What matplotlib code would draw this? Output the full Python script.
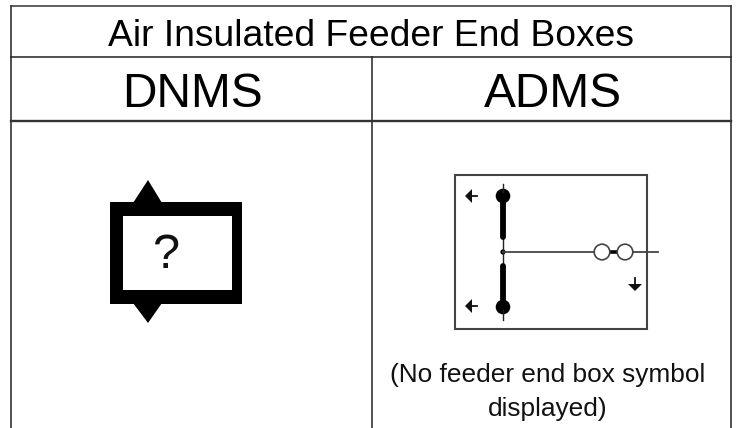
import matplotlib
matplotlib.use("Agg")
import matplotlib.pyplot as plt
from matplotlib.patches import Circle, Polygon, Rectangle

W, H = 736, 428
title = "Air Insulated Feeder End Boxes"
columns = ["DNMS", "ADMS"]
note = "(No feeder end box symbol\ndisplayed)"

#Table grid lines in picture pixels
table_left, table_right, table_mid = 11.3, 731.3, 371.7
row_top, row_title, row_head, row_bottom = 5.7, 57.3, 120.7, 428

plt.rcParams['font.family'] = ['Liberation Sans', 'DejaVu Sans']
fig = plt.figure(figsize=(W / 100, H / 100), dpi=100)
ax = fig.add_axes([0, 0, 1, 1])
ax.set_xlim(0, W)
ax.set_ylim(H, 0)
ax.axis('off')

#Table
ax.plot([table_left, table_left], [row_top, row_bottom], color='#222222', lw=1.1)
ax.plot([table_right, table_right], [row_top, row_bottom], color='#222222', lw=1.1)
ax.plot([table_mid, table_mid], [row_title, row_bottom], color='#222222', lw=1.1)
ax.plot([table_left, table_right], [row_top, row_top], color='#333333', lw=1.1)
ax.plot([table_left, table_right], [row_title, row_title], color='#222222', lw=1.1)
ax.plot([table_left, table_right], [row_head, row_head], color='#333333', lw=1.7)

ax.text(371.5, 45.5, title, ha='center', va='baseline', fontsize=26.8, color='black')
ax.text(192.5, 107, columns[0], ha='center', va='baseline', fontsize=34.5, color='black')
ax.text(552.5, 107, columns[1], ha='center', va='baseline', fontsize=34.5, color='black')
ax.text(547.5, 392, note, ha='center', va='center', fontsize=18.9, color='#111111', linespacing=1.52)

#DNMS symbol
ax.add_patch(Polygon([(133, 203), (148, 180), (162, 203)], fc='black', ec='none'))
ax.add_patch(Polygon([(133, 303), (148, 323), (162, 303)], fc='black', ec='none'))
ax.add_patch(Rectangle((110, 202), 132, 102, fc='black', ec='none'))
ax.add_patch(Rectangle((123, 216), 109, 74, fc='white', ec='none'))
ax.text(166, 255, "?", ha='center', va='center', fontsize=35, color='#111111')

#ADMS symbol
ax.add_patch(Rectangle((455, 175), 192, 154, fc='none', ec='#444444', lw=1.5))
ax.plot([503, 503], [184, 320], color='#222222', lw=1)
ax.plot([503, 503], [196, 237], color='black', lw=4.2, solid_capstyle='round')
ax.plot([503, 503], [266, 307], color='black', lw=4.2, solid_capstyle='round')
ax.add_patch(Circle((503, 196), 7.3, fc='black', ec='none'))
ax.add_patch(Circle((503, 307), 7.3, fc='black', ec='none'))
ax.add_patch(Circle((503, 252), 2.6, fc='black', ec='none'))
ax.plot([503, 658], [252, 252], color='#444444', lw=1.3)
ax.plot([608, 620], [252, 252], color='black', lw=2.6)
ax.add_patch(Circle((602, 252), 7.8, fc='white', ec='#444444', lw=1.2, zorder=3))
ax.add_patch(Circle((625, 252), 7.8, fc='white', ec='#444444', lw=1.2, zorder=3))

#Small arrows
for y in [196, 306]:
    ax.add_patch(Polygon([(465, y), (472, y - 7), (472, y + 7)], fc='#111111', ec='none'))
    ax.plot([470, 477], [y, y], color='#111111', lw=1.3)
ax.add_patch(Polygon([(628, 284), (642, 284), (635, 291)], fc='#111111', ec='none'))
ax.plot([635, 635], [278, 286], color='#111111', lw=1.3)

fig.savefig('out.png', dpi=100)
